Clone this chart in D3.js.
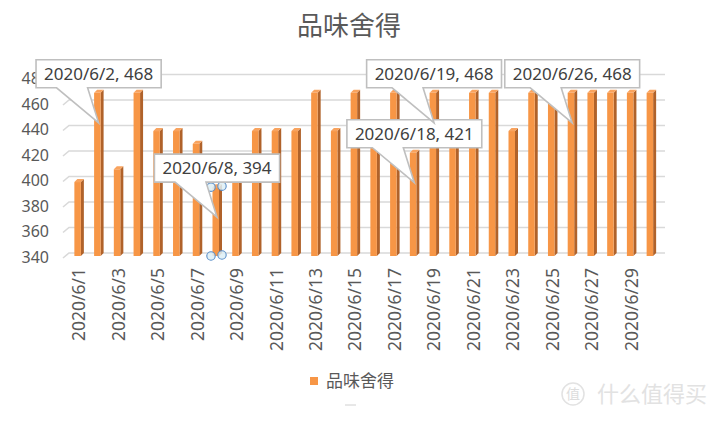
<!DOCTYPE html>
<html><head><meta charset="utf-8">
<script src="https://cdn.jsdelivr.net/npm/d3@7"></script>
<style>
html,body{margin:0;padding:0;background:#fff;}
svg{display:block;font-family:"Noto Sans","Noto Sans CJK SC",sans-serif;}
</style></head>
<body>
<svg id="c" width="727" height="421"></svg>
<script>
const title = "品味舍得";
const seriesName = "品味舍得";
const dates = ["2020/6/1","2020/6/2","2020/6/3","2020/6/4","2020/6/5","2020/6/6","2020/6/7","2020/6/8","2020/6/9","2020/6/10",
"2020/6/11","2020/6/12","2020/6/13","2020/6/14","2020/6/15","2020/6/16","2020/6/17","2020/6/18","2020/6/19","2020/6/20",
"2020/6/21","2020/6/22","2020/6/23","2020/6/24","2020/6/25","2020/6/26","2020/6/27","2020/6/28","2020/6/29","2020/6/30"];
const values = [398,468,408,468,438,438,428,394,398,438,
438,438,468,438,468,438,468,421,468,438,
468,468,438,468,468,468,468,468,468,468];
const yTicks = [340,360,380,400,420,440,460,480];
const xTickLabels = dates.filter((d,i)=>i%2===0);
const callouts = ["2020/6/2","2020/6/8","2020/6/18","2020/6/19","2020/6/26"];
const selected = "2020/6/8";

const svg = d3.select("#c");
const x = d3.scaleBand().domain(dates).range([69,661]).padding(0);
const y = d3.scaleLinear().domain([340,480]).range([253,74.5]);
const xc = d => x(d) + x.bandwidth()/2;
const val = d => values[dates.indexOf(d)];

// title
svg.append("text").attr("x",349).attr("y",35).attr("text-anchor","middle")
  .attr("font-size",26).attr("fill","#595959").attr("font-family","Noto Sans CJK SC").text(title);

// gridlines
const g = svg.append("g");
yTicks.forEach(t=>{
  const yy = y(t);
  g.append("path").attr("d",`M63,${yy+5}L69,${yy}L665,${yy}`)
   .attr("fill","none").attr("stroke","#D9D9D9").attr("stroke-width",1.6);
});

// y axis labels
svg.append("g").selectAll("text").data(yTicks).join("text")
  .attr("x",49).attr("y",t=>y(t)+4).attr("dy","0.36em").attr("text-anchor","end")
  .attr("font-size",16).attr("fill","#595959").text(t=>t);

// bars (3D look)
const y0 = y(340);
const bars = svg.append("g");
dates.forEach(d=>{
  const c = xc(d), yt = y(val(d));
  const fl = c-4.5, fr = c+2, br = c+5, dz = 3;
  bars.append("path").attr("d",`M${fr},${yt+dz}L${br},${yt}L${br},${y0}L${fr},${y0+dz}Z`).attr("fill","#B0622A");
  bars.append("path").attr("d",`M${fl},${yt+dz}L${fl+3},${yt}L${br},${yt}L${fr},${yt+dz}Z`).attr("fill","#F9A35E");
  bars.append("rect").attr("x",fl).attr("y",yt+dz).attr("width",fr-fl).attr("height",y0-yt).attr("fill","#F79646");
});

// x labels
svg.append("g").selectAll("text").data(xTickLabels).join("text")
  .attr("transform",d=>`translate(${xc(d)},268) rotate(-90)`)
  .attr("text-anchor","end").attr("dy","0.36em")
  .attr("font-size",17.5).attr("fill","#595959").text(d=>d);

// selection handles
{
  const c = xc(selected), yt = y(val(selected));
  [[c-6,yt+3],[c+5,yt+2],[c-6,y0+3],[c+5,y0+2]].forEach(p=>{
    svg.append("circle").attr("cx",p[0]).attr("cy",p[1]).attr("r",4.2)
      .attr("fill","#DDEEF6").attr("fill-opacity",0.85).attr("stroke","#5B8FC8").attr("stroke-width",1.1);
  });
}

// callouts
const cg = svg.append("g");
callouts.forEach(d=>{
  const v = val(d), c = xc(d), yt = y(v);
  const label = `${d}, ${v}`;
  const grp = cg.append("g");
  const txt = grp.append("text").attr("font-size",17).attr("fill","#404040").attr("text-anchor","middle").text(label);
  const w = txt.node().getComputedTextLength() + 16;
  const top = yt-30, bot = yt-2, h = bot-top;
  const l = c - w/2, r = c + w/2;
  const tipX = c, tipY = yt+33;
  const b1 = c-42, b2 = c-11;
  const path = `M${l},${top}L${r},${top}L${r},${bot}L${b2},${bot}L${tipX},${tipY}L${b1},${bot}L${l},${bot}Z`;
  grp.insert("path","text").attr("d",path).attr("fill","#fff").attr("stroke","#BFBFBF").attr("stroke-width",1.6);
  txt.attr("x",c).attr("y",top+h/2).attr("dy","0.36em");
});

// legend
svg.append("rect").attr("x",310).attr("y",377).attr("width",8).attr("height",8).attr("fill","#F79646");
svg.append("text").attr("x",326).attr("y",381).attr("dy","0.36em").attr("font-size",17)
  .attr("fill","#595959").attr("font-family","Noto Sans CJK SC").text(seriesName);
svg.append("line").attr("x1",345).attr("x2",356).attr("y1",405).attr("y2",405).attr("stroke","#D0D0D0").attr("stroke-width",1);

// watermark
svg.append("circle").attr("cx",573).attr("cy",394).attr("r",11).attr("fill","none").attr("stroke","#E2E2E2").attr("stroke-width",1.5);
svg.append("text").attr("x",573).attr("y",394).attr("dy","0.36em").attr("text-anchor","middle").attr("font-size",14)
  .attr("fill","#DDDDDD").attr("font-family","Noto Sans CJK SC").text("值");
svg.append("text").attr("x",597).attr("y",394).attr("dy","0.36em").attr("font-size",22)
  .attr("fill","#E2E2E2").attr("font-family","Noto Sans CJK SC").text("什么值得买");
</script>
</body></html>
